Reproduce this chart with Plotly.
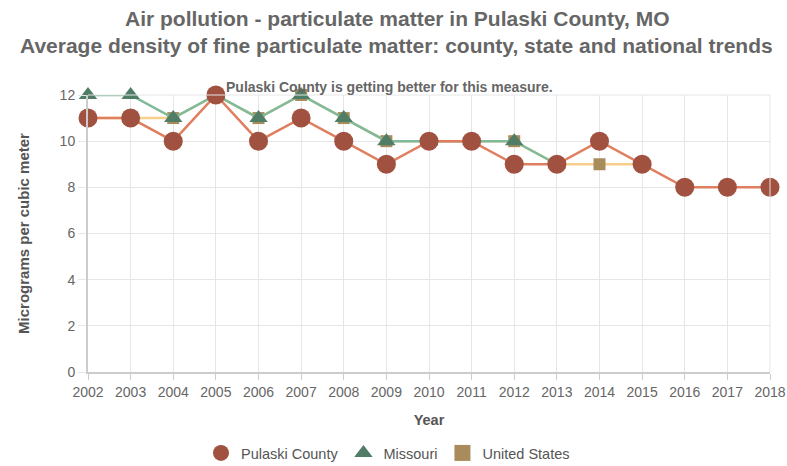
import plotly.graph_objects as go

years = list(range(2002, 2019))
pulaski = [11, 11, 10, 12, 10, 11, 10, 9, 10, 10, 9, 9, 10, 9, 8, 8, 8]
missouri = [12, 12, 11, 12, 11, 12, 11, 10, 10, 10, 10, 9, None, None, None, None, None]
united_states = [11, 11, 11, 12, 11, 12, 11, 10, 10, 10, 10, 9, 9, 9, None, None, None]

font = "Liberation Sans, Arial, sans-serif"
W, H = 787, 466
ML, MR, MT, MB = 88, 17, 95, 94

series = [
    ("United States", united_states, "#f6cf8c", "#a88c5c", "square", 12),
    ("Missouri", missouri, "#7fba9a", "#4f7d66", "triangle-up", 16),
    ("Pulaski County", pulaski, "#e07f5f", "#a0513f", "circle", 19),
]
fig = go.Figure()
for name, vals, lc, mc, sym, sz in series:
    fig.add_trace(go.Scatter(
        x=years, y=vals, name=name, mode="lines+markers", showlegend=False,
        line=dict(color=lc, width=2.5),
        marker=dict(symbol=sym, size=sz, color=mc), cliponaxis=False,
    ))
for name, vals, lc, mc, sym, sz in reversed(series):
    fig.add_trace(go.Scatter(
        x=[None], y=[None], name=name, mode="markers", showlegend=True,
        marker=dict(symbol=sym, size=22, color=mc),
    ))

fig.update_layout(
    width=W, height=H,
    margin=dict(l=ML, r=MR, t=MT, b=MB, autoexpand=False),
    plot_bgcolor="white", paper_bgcolor="white",
    font=dict(family=font, color="#666666", size=12),
    showlegend=True,
    legend=dict(
        orientation="h", xref="container", x=0.493, xanchor="center",
        yref="container", y=(H - 453) / H, yanchor="middle",
        font=dict(size=14.5, color="#555555"), itemsizing="trace",
    ),
)

ph = H - MT - MB
pw = W - ML - MR
def py(pix):
    return (H - MB - pix) / ph
def px(pix):
    return (pix - ML) / pw

fig.add_annotation(text="<b>Air pollution - particulate matter in Pulaski County, MO</b>",
                   x=px(397), xref="paper", y=py(18), yref="paper", yanchor="middle", showarrow=False,
                   font=dict(family=font, size=21, color="#666666"))
fig.add_annotation(text="<b>Average density of fine particulate matter: county, state and national trends</b>",
                   x=px(396), xref="paper", y=py(45), yref="paper", yanchor="middle", showarrow=False,
                   font=dict(family=font, size=21, color="#666666"))
fig.add_annotation(text="<b>Pulaski County is getting better for this measure.</b>",
                   x=px(389), xref="paper", y=py(87), yref="paper", yanchor="middle", showarrow=False,
                   font=dict(family=font, size=14, color="#666666"))

fig.update_xaxes(
    range=[2002, 2018], tickmode="array", tickvals=years,
    ticktext=[str(y) for y in years], automargin=False,
    showgrid=True, gridcolor="#e6e6e6", showline=True, linecolor="#cccccc",
    linewidth=2, ticks="outside", ticklen=6, tickcolor="#cccccc",
    title=dict(text="<b>Year</b>", font=dict(size=14.5, color="#555555"), standoff=16),
    tickfont=dict(size=14, color="#666666"), zeroline=False,
)
fig.update_yaxes(
    range=[0, 12], tickvals=[0, 2, 4, 6, 8, 10, 12], automargin=False,
    showgrid=True, gridcolor="#e6e6e6", showline=True, linecolor="#cccccc",
    linewidth=2, ticks="outside", ticklen=8, tickcolor="#e6e6e6",
    title=dict(text="<b>Micrograms per cubic meter</b>", font=dict(size=15, color="#555555"), standoff=26),
    tickfont=dict(size=14, color="#666666"), zeroline=False,
)
fig.add_shape(type="line", xref="paper", yref="paper", x0=0, x1=1, y0=1, y1=1, line=dict(color="#e6e6e6", width=1))
fig.add_shape(type="line", xref="paper", yref="paper", x0=1, x1=1, y0=0, y1=1, line=dict(color="#e6e6e6", width=1))

fig.write_html("out.html", config={"displayModeBar": False},
               post_script="document.body.style.margin='0';")
